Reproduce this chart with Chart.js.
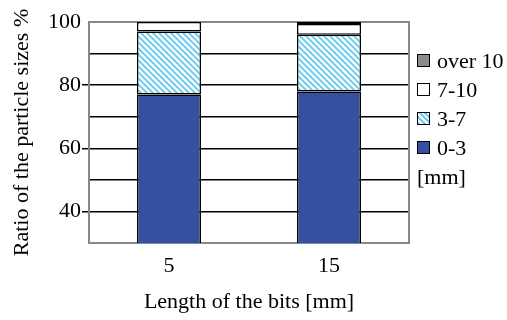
<!DOCTYPE html>
<html><head><meta charset="utf-8">
<script src="https://cdn.jsdelivr.net/npm/chart.js@4"></script>
<style>
html,body{margin:0;padding:0;background:#fff;}
#wrap{position:relative;width:507px;height:320px;}
#legend{position:absolute;left:417px;top:46px;font-family:"Liberation Serif",serif;font-size:22px;color:#000;}
#legend .it{height:29px;line-height:29px;white-space:nowrap;}
#legend .bx{display:inline-block;width:11px;height:11px;border:1px solid #000;margin-right:7px;vertical-align:middle;position:relative;top:-2px;}
</style></head>
<body><div id="wrap"><canvas id="c" width="507" height="320"></canvas>
<div id="legend"></div></div>
<script>
const categories = ["5", "15"];
const seriesNames = ["0-3", "3-7", "7-10", "over 10"];
const s0_3 = [77, 78];
const s3_7 = [20, 18];
const s7_10 = [3, 3.4];
const sOver10 = [0, 0.6];
const yTicks = [40, 60, 80, 100];

function makePattern(){
  const p = document.createElement('canvas');
  p.width = 6; p.height = 6;
  const g = p.getContext('2d');
  g.fillStyle = '#ffffff'; g.fillRect(0,0,6,6);
  g.strokeStyle = '#72cdef'; g.lineWidth = 2;
  g.beginPath();
  g.moveTo(-3,-3); g.lineTo(9,9);
  g.moveTo(-3,3); g.lineTo(3,9);
  g.moveTo(3,-3); g.lineTo(9,3);
  g.stroke();
  return g.createPattern(p,'repeat');
}
const pat = makePattern();
const colors = ['#34509f', pat, '#ffffff', '#8c8c8c'];
const values = [s0_3, s3_7, s7_10, sOver10];

const datasets = seriesNames.map((n,i)=>({
  label:n, data:values[i], backgroundColor:colors[i], borderColor:'#000', borderWidth:1.5,
  borderSkipped:false, barPercentage:0.4, categoryPercentage:1.0
}));

const serif = "Liberation Serif";
new Chart(document.getElementById('c'), {
  type:'bar',
  data:{labels:categories, datasets},
  options:{
    responsive:false, animation:false,
    layout:{padding:{top:22,right:98,left:0,bottom:0}},
    plugins:{legend:{display:false}, tooltip:{enabled:false}},
    scales:{
      x:{stacked:true,
        grid:{display:false, drawTicks:false},
        border:{display:true,color:'#888',width:2},
        ticks:{color:'#000',font:{family:serif,size:22},padding:10},
        title:{display:true,text:'Length of the bits [mm]',color:'#000',font:{family:serif,size:22},padding:{top:0,bottom:5}},
        afterFit(s){s.height=77;}
      },
      y:{stacked:true,min:30,max:100,
        afterBuildTicks(s){s.ticks=[30,40,50,60,70,80,90,100].map(v=>({value:v}));},
        grid:{color:c=>c.tick&&c.tick.value===100?'#888':(c.tick&&c.tick.value===30?'rgba(0,0,0,0)':'#000'),
              lineWidth:c=>c.tick&&c.tick.value===100?2:1.5,
              tickColor:c=>(c.tick&&yTicks.includes(c.tick.value)&&c.tick.value!==100)?'#000':'rgba(0,0,0,0)',
              tickLength:7, drawTicks:true},
        border:{display:true,color:'#888',width:2},
        ticks:{color:'#000',font:{family:serif,size:22},padding:1,
          callback:(v)=>yTicks.includes(v)?String(v):''},
        title:{display:true,text:'Ratio of the particle sizes %',color:'#000',font:{family:serif,size:22},padding:{top:9,bottom:0}},
        afterFit(s){s.width=89;}
      },
      y2:{position:'right',min:30,max:100,display:true,
        grid:{display:false,drawTicks:false},
        ticks:{display:false},
        border:{display:true,color:'#888',width:2},
        afterFit(s){s.width=0;}
      }
    }
  }
});

const lg = document.getElementById('legend');
const legendBoxes = ['#8c8c8c','#ffffff',null,'#34509f'];
['over 10','7-10','3-7','0-3'].forEach((t,i)=>{
  const d=document.createElement('div'); d.className='it';
  const b=document.createElement('span'); b.className='bx';
  if(legendBoxes[i]) b.style.background=legendBoxes[i];
  else b.style.background='repeating-linear-gradient(45deg,#72cdef 0 2px,#fff 2px 4px)';
  d.appendChild(b); d.appendChild(document.createTextNode(t)); lg.appendChild(d);
});
const mm=document.createElement('div'); mm.className='it'; mm.textContent='[mm]'; lg.appendChild(mm);
</script></body></html>
